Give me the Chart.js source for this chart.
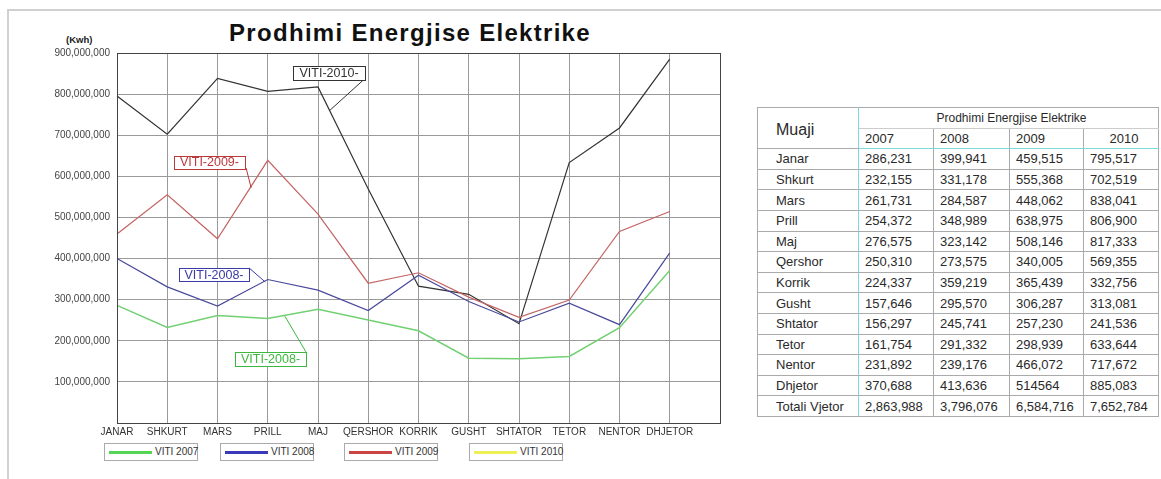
<!DOCTYPE html>
<html><head><meta charset="utf-8">
<script src="https://cdn.jsdelivr.net/npm/chart.js@4/dist/chart.umd.min.js"></script>
<style>
html,body{margin:0;padding:0;background:#fff;width:1161px;height:479px;overflow:hidden;font-family:"Liberation Sans",Arial,sans-serif;}
#frameTop{position:absolute;left:8px;top:9px;width:1153px;height:2px;background:#d0d0d0;}
#frameLeft{position:absolute;left:7px;top:9px;width:2px;height:470px;background:#d0d0d0;}
#title{position:absolute;left:160px;top:19px;width:500px;text-align:center;font-weight:bold;font-size:24px;color:#111;letter-spacing:1.3px;}
#unit{position:absolute;left:66px;top:34px;font-weight:bold;font-size:9.5px;color:#222;}
#wrap{position:absolute;left:0;top:0;width:740px;height:440px;}
#legend{position:absolute;left:0;top:443px;}
.lg{position:absolute;top:0;width:92px;height:16px;border:1px solid #aaa;background:#fff;}
.lg .ln{position:absolute;left:4px;top:7px;width:43px;height:3px;}
.lg .tx{position:absolute;left:50px;top:2px;font-size:10px;color:#333;white-space:nowrap;}
table{position:absolute;left:757px;top:107px;border-collapse:collapse;font-size:13px;color:#2a2a2a;border:1.5px solid #7fd8d8;}
td{border:1px solid #aaa;padding:0 0 0 6px;height:19.6px;white-space:nowrap;}
td.m{border-right:1.5px solid #7fd8d8;padding-left:18px;}
tr.hd2 td{border-bottom:1.5px solid #7fd8d8;}
tr.tot td{border-top:1.5px solid #7fd8d8;}
</style></head>
<body>
<div id="frameTop"></div><div id="frameLeft"></div>
<div id="title">Prodhimi Energjise Elektrike</div>
<div id="unit">(Kwh)</div>
<div id="wrap"><canvas id="c" width="740" height="440"></canvas></div>
<div id="legend"></div>
<table id="tbl"></table>
<script>
// ---- data (thousand kWh) ----
const monthsAxis = ['JANAR','SHKURT','MARS','PRILL','MAJ','QERSHOR','KORRIK','GUSHT','SHTATOR','TETOR','NENTOR','DHJETOR',''];
const monthsTable = ['Janar','Shkurt','Mars','Prill','Maj','Qershor','Korrik','Gusht','Shtator','Tetor','Nentor','Dhjetor'];
const years = ['2007','2008','2009','2010'];
const seriesNames = ['VITI 2007','VITI 2008','VITI 2009','VITI 2010'];
const d2007 = [286231,232155,261731,254372,276575,250310,224337,157646,156297,161754,231892,370688];
const d2008 = [399941,331178,284587,348989,323142,273575,359219,295570,245741,291332,239176,413636];
const d2009 = [459515,555368,448062,638975,508146,340005,365439,306287,257230,298939,466072,514564];
const d2010 = [795517,702519,838041,806900,817333,569355,332756,313081,241536,633644,717672,885083];
const totals = [2863988,3796076,6584716,7652784];
const yTicks = [0,100000000,200000000,300000000,400000000,500000000,600000000,700000000,800000000,900000000];

const lineColors = ['#72d072','#4a4a9c','#c46464','#333333'];
const legendColors = ['#55d455','#3a3ab8','#cc4444','#eeee55'];
const allData = [d2007,d2008,d2009,d2010];

// callout annotations (x in category index, y in kWh)
const callouts = [
  {text:'VITI-2010-', color:'#333', box:[3.5,4.94,868e6,834e6], lead:[4.9,834e6,4.24,761e6]},
  {text:'VITI-2009-', color:'#b83a3a', box:[1.13,2.55,650e6,618e6], lead:[2.57,620e6,2.67,572e6]},
  {text:'VITI-2008-', color:'#3a3aa8', box:[1.23,2.63,377e6,345e6], lead:[2.63,377e6,2.95,343e6]},
  {text:'VITI-2008-', color:'#3cb83c', box:[2.35,3.76,173e6,139e6], lead:[3.76,173e6,3.34,260e6]}
];

const calloutPlugin = {
  id:'callouts',
  afterDatasetsDraw(chart){
    const {ctx, scales:{x,y}, chartArea:a} = chart;
    ctx.save();
    ctx.strokeStyle='#444'; ctx.lineWidth=1;
    ctx.strokeRect(Math.round(a.left)+0.5, Math.round(a.top)+0.5, Math.round(a.right-a.left), Math.round(a.bottom-a.top));
    ctx.font='12.5px "Liberation Sans", Arial, sans-serif';
    ctx.textBaseline='middle'; ctx.textAlign='center';
    callouts.forEach(c=>{
      ctx.strokeStyle=c.color; ctx.lineWidth=1;
      ctx.beginPath();
      ctx.moveTo(x.getPixelForValue(c.lead[0]), y.getPixelForValue(c.lead[1]));
      ctx.lineTo(x.getPixelForValue(c.lead[2]), y.getPixelForValue(c.lead[3]));
      ctx.stroke();
      const x0=x.getPixelForValue(c.box[0]), x1=x.getPixelForValue(c.box[1]);
      const y0=y.getPixelForValue(c.box[2]), y1=y.getPixelForValue(c.box[3]);
      ctx.fillStyle='#fff';
      ctx.fillRect(x0,y0,x1-x0,y1-y0);
      ctx.strokeRect(Math.round(x0)+0.5,Math.round(y0)+0.5,Math.round(x1-x0),Math.round(y1-y0));
      ctx.fillStyle=c.color;
      ctx.fillText(c.text,(x0+x1)/2,(y0+y1)/2+0.5);
    });
    ctx.restore();
  }
};

new Chart(document.getElementById('c'), {
  type:'line',
  data:{
    labels: monthsAxis,
    datasets: allData.map((d,i)=>({
      label: seriesNames[i],
      data: d.map(v=>v*1000),
      borderColor: lineColors[i],
      borderWidth: i===0 ? 1.5 : 1.2,
      pointRadius:0, tension:0, fill:false
    }))
  },
  options:{
    responsive:false, animation:false,
    layout:{padding:{top:53,left:0,right:20,bottom:0}},
    plugins:{legend:{display:false}, title:{display:false}, tooltip:{enabled:false}},
    scales:{
      x:{
        afterFit(s){ s.height=17; },
        grid:{color:'#9a9a9a', lineWidth:1, drawTicks:false, offset:false},
        border:{color:'#444'},
        ticks:{color:'#333', font:{size:10, family:'"Liberation Sans", Arial, sans-serif'}, padding:3, autoSkip:false, maxRotation:0}
      },
      y:{
        min:0, max:900000000,
        afterFit(s){ s.width=117; },
        afterBuildTicks(s){ s.ticks = yTicks.map(v=>({value:v})); },
        grid:{color:'#9a9a9a', lineWidth:1, drawTicks:false},
        border:{color:'#444'},
        ticks:{color:'#444', font:{size:10, family:'"Liberation Sans", Arial, sans-serif'}, padding:7,
          callback:v=> v===0 ? '' : Number(v).toLocaleString('en-US')}
      }
    }
  },
  plugins:[calloutPlugin]
});

// legend
const lg = document.getElementById('legend');
const lgLeft = [104,220,344,469];
seriesNames.forEach((n,i)=>{
  const d=document.createElement('div'); d.className='lg'; d.style.left=lgLeft[i]+'px';
  d.innerHTML='<div class="ln" style="background:'+legendColors[i]+'"></div><div class="tx">'+n+'</div>';
  lg.appendChild(d);
});

// table
const fmt = v => v.toLocaleString('en-US');
const rawCells = {'2-11':true}; // shown without separator in the source
const colW=[101,75,76,74,75];
let h='<colgroup>'+colW.map(w=>'<col style="width:'+w+'px">').join('')+'</colgroup>';
h+='<tr><td class="m" rowspan="2" style="font-size:16px;padding-top:4px">Muaji</td><td colspan="4" style="text-align:center;font-size:12px;border-bottom:1px solid #ccc">Prodhimi Energjise Elektrike</td></tr>';
h+='<tr class="hd2">'+years.map((y,i)=>'<td style="'+(i===3?'text-align:center;':'')+'">'+y+'</td>').join('')+'</tr>';
monthsTable.forEach((m,r)=>{
  h+='<tr><td class="m">'+m+'</td>'+allData.map((d,c)=>'<td>'+(rawCells[c+'-'+r]?String(d[r]):fmt(d[r]))+'</td>').join('')+'</tr>';
});
h+='<tr class="tot"><td class="m">Totali Vjetor</td>'+totals.map(t=>'<td>'+fmt(t)+'</td>').join('')+'</tr>';
document.getElementById('tbl').innerHTML=h;
</script>
</body></html>
